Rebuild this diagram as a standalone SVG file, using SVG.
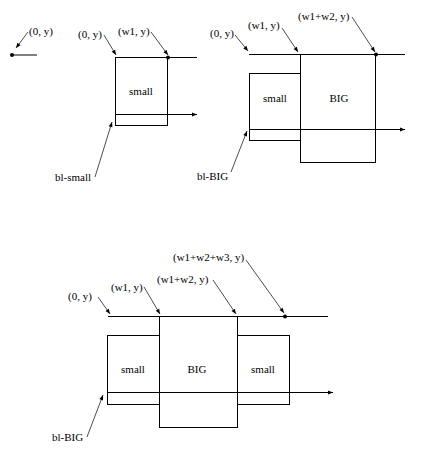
<svg xmlns="http://www.w3.org/2000/svg" width="421" height="454" viewBox="0 0 421 454">
<defs>
<marker id="ah" viewBox="0 0 10 10" refX="10" refY="5" markerWidth="6" markerHeight="5" orient="auto" markerUnits="userSpaceOnUse">
<path d="M0,1 L10,5 L0,9 Z" fill="#000"/>
</marker>
</defs>
<style>
.box{fill:none;stroke:#000;stroke-width:1}
.ln{fill:none;stroke:#000;stroke-width:1}
.ld{fill:none;stroke:#000;stroke-width:0.7;marker-end:url(#ah)}
.ax{fill:none;stroke:#000;stroke-width:1;marker-end:url(#ah)}
text{font-family:"Liberation Serif","Times New Roman",serif;font-size:11px;fill:#000}
.c{text-anchor:middle}
</style>
<rect width="421" height="454" fill="#fff"/>

<!-- Diagram 1 -->
<g id="d1">
<line class="ln" x1="12" y1="55" x2="37" y2="55"/>
<circle cx="12" cy="55" r="2" fill="#000"/>
<text x="29" y="35">(0, y)</text>
</g>

<!-- Diagram 2 -->
<g id="d2-small">
<rect class="box" x="115.5" y="57.5" width="52" height="68"/>
<text class="c" x="141" y="95">small</text>
</g>
<g id="d2-labels">
<text x="78" y="38">(0, y)</text>
<text x="118" y="35">(w1, y)</text>
<text x="55" y="181">bl-small</text>
<circle cx="168" cy="57.5" r="2" fill="#000"/>
</g>

<!-- Diagram 3 -->
<g id="d3-small">
<rect class="box" x="249.5" y="73.5" width="51" height="67"/>
<text class="c" x="275" y="102">small</text>
</g>
<g id="d3-big">
<rect class="box" x="300.5" y="54.5" width="75" height="108"/>
<text class="c" x="339" y="102">BIG</text>
</g>
<g id="d3-labels">
<text x="210" y="37">(0, y)</text>
<text x="248" y="29">(w1, y)</text>
<text x="298" y="20">(w1+w2, y)</text>
<text x="197" y="180">bl-BIG</text>
<circle cx="376" cy="54.5" r="2" fill="#000"/>
</g>

<!-- Diagram 4 -->
<g id="d4-small-left">
<rect class="box" x="107.5" y="335.5" width="52" height="69"/>
<text class="c" x="133" y="373">small</text>
</g>
<g id="d4-big">
<rect class="box" x="159.5" y="316.5" width="78" height="111"/>
<text class="c" x="197" y="373">BIG</text>
</g>
<g id="d4-small-right">
<rect class="box" x="237.5" y="335.5" width="52" height="69"/>
<text class="c" x="263" y="373">small</text>
</g>
<g id="d4-labels">
<text x="68" y="300">(0, y)</text>
<text x="111" y="291">(w1, y)</text>
<text x="157" y="283">(w1+w2, y)</text>
<text x="173" y="261">(w1+w2+w3, y)</text>
<text x="52" y="441">bl-BIG</text>
<circle cx="285" cy="316.5" r="2" fill="#000"/>
</g>

<g id="connectors">
<!-- d1 -->
<line class="ld" x1="28" y1="32" x2="16" y2="48"/>
<!-- d2 -->
<line class="ln" x1="168" y1="57.5" x2="197" y2="57.5"/>
<line class="ax" x1="115.5" y1="114.5" x2="197" y2="114.5"/>
<line class="ld" x1="104" y1="35" x2="116" y2="55"/>
<line class="ld" x1="151" y1="32" x2="168" y2="55"/>
<line class="ld" x1="95" y1="177" x2="112" y2="122"/>
<!-- d3 -->
<line class="ln" x1="249" y1="54.5" x2="405" y2="54.5"/>
<line class="ax" x1="249.5" y1="129.5" x2="405" y2="129.5"/>
<line class="ld" x1="235" y1="35" x2="248" y2="51"/>
<line class="ld" x1="282" y1="28" x2="298" y2="52"/>
<line class="ld" x1="352" y1="17" x2="375" y2="52"/>
<line class="ld" x1="231" y1="172" x2="247" y2="131"/>
<!-- d4 -->
<line class="ln" x1="108" y1="316.5" x2="328" y2="316.5"/>
<line class="ax" x1="107.5" y1="392.5" x2="333" y2="392.5"/>
<line class="ld" x1="98" y1="297" x2="110" y2="314"/>
<line class="ld" x1="144" y1="287" x2="160" y2="314"/>
<line class="ld" x1="213" y1="280" x2="236" y2="314"/>
<line class="ld" x1="246" y1="260" x2="284" y2="313"/>
<line class="ld" x1="87" y1="437" x2="103" y2="395"/>
</g>
</svg>
